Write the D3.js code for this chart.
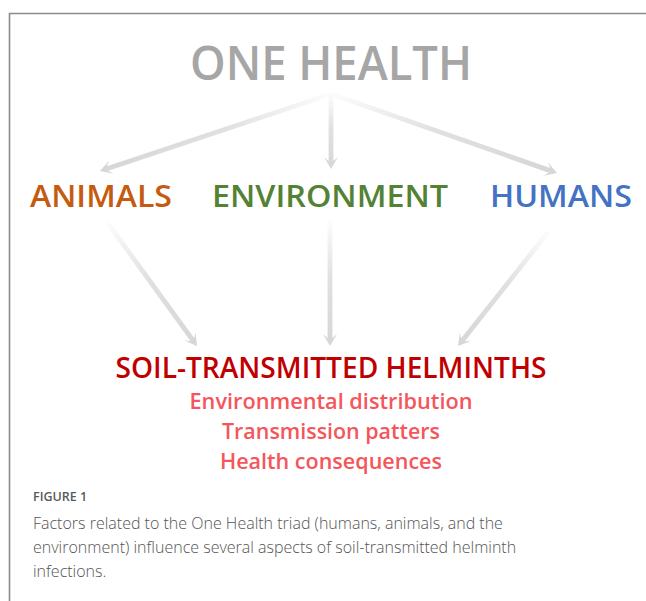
<!DOCTYPE html>
<html>
<head>
<meta charset="utf-8">
<script src="https://cdn.jsdelivr.net/npm/d3@7"></script>
<style>
  body { margin: 0; background: #fff; }
  svg { display: block; }
</style>
</head>
<body>
<div id="chart"></div>
<script>
// diagram content
var topLabel = "ONE HEALTH";
var factors = ["ANIMALS", "ENVIRONMENT", "HUMANS"];
var factorColors = ["#c55a11", "#548235", "#4472c4"];
var targetLabel = "SOIL-TRANSMITTED HELMINTHS";
var aspects = ["Environmental distribution", "Transmission patters", "Health consequences"];
var figLabel = "FIGURE 1";
var caption = [
  "Factors related to the One Health triad (humans, animals, and the",
  "environment) influence several aspects of soil-transmitted helminth",
  "infections."
];

var width = 646, height = 601;
var cx = 331;

var svg = d3.select("#chart").append("svg")
  .attr("width", width)
  .attr("height", height);

// frame (top + left edge only, the figure continues off the crop)
svg.append("path")
  .attr("d", "M9.5," + height + " V13.5 H" + width)
  .attr("fill", "none")
  .attr("stroke", "#8c8c8c")
  .attr("stroke-width", 1.6);

var defs = svg.append("defs");

var xFactor = d3.scaleOrdinal().domain(factors).range([101, 330, 561]);
var factorWidth = { "ANIMALS": 142, "ENVIRONMENT": 236, "HUMANS": 142 };

function fitText(sel, w) {
  sel.attr("textLength", w).attr("lengthAdjust", "spacingAndGlyphs");
}

// arrows: [from, to]
var upperArrows = [
  [[331, 94], [100, 171]],
  [[331, 94], [331, 169]],
  [[331, 94], [557, 173]]
];
var lowerArrows = [
  [[107, 222], [197, 346]],
  [[330, 219], [330, 346]],
  [[549, 231], [458, 346]]
];

function drawArrow(a, i, tag) {
  var s = a[0], t = a[1];
  var id = "g-" + tag + i;
  var grad = defs.append("linearGradient")
    .attr("id", id)
    .attr("gradientUnits", "userSpaceOnUse")
    .attr("x1", s[0]).attr("y1", s[1])
    .attr("x2", t[0]).attr("y2", t[1]);
  grad.append("stop").attr("offset", "0%").attr("stop-color", "#d9d9d9").attr("stop-opacity", 0.05);
  grad.append("stop").attr("offset", "45%").attr("stop-color", "#d9d9d9").attr("stop-opacity", 0.8);
  grad.append("stop").attr("offset", "100%").attr("stop-color", "#d6d6d6").attr("stop-opacity", 1);

  var dx = t[0] - s[0], dy = t[1] - s[1];
  var len = Math.sqrt(dx * dx + dy * dy);
  var ux = dx / len, uy = dy / len;
  var px = -uy, py = ux;
  var headL = 12, headW = 7, notch = 4, sw = 2.4;

  var bx = t[0] - ux * headL, by = t[1] - uy * headL;
  var nx = t[0] - ux * (headL - notch), ny = t[1] - uy * (headL - notch);
  var pts = [
    [s[0] + px * sw, s[1] + py * sw],
    [nx + px * sw, ny + py * sw],
    [bx + px * headW, by + py * headW],
    [t[0], t[1]],
    [bx - px * headW, by - py * headW],
    [nx - px * sw, ny - py * sw],
    [s[0] - px * sw, s[1] - py * sw]
  ];
  svg.append("path")
    .attr("d", d3.line()(pts) + "Z")
    .attr("fill", "url(#" + id + ")");
}

upperArrows.forEach(function(a, i) { drawArrow(a, i, "u"); });
lowerArrows.forEach(function(a, i) { drawArrow(a, i, "l"); });

var diagFont = "'Open Sans', 'Noto Sans', sans-serif";

svg.append("text")
  .attr("x", cx).attr("y", 80)
  .attr("text-anchor", "middle")
  .attr("font-family", diagFont)
  .attr("font-weight", 600)
  .attr("font-size", 47)
  .attr("fill", "#a6a6a6")
  .text(topLabel)
  .call(fitText, 282);

svg.selectAll("text.factor")
  .data(factors)
  .enter().append("text")
  .attr("class", "factor")
  .attr("x", function(d) { return xFactor(d); })
  .attr("y", 207)
  .attr("text-anchor", "middle")
  .attr("font-family", diagFont)
  .attr("font-weight", 600)
  .attr("font-size", 30)
  .attr("fill", function(d, i) { return factorColors[i]; })
  .text(function(d) { return d; })
  .each(function(d) { d3.select(this).call(fitText, factorWidth[d]); });

svg.append("text")
  .attr("x", cx).attr("y", 378)
  .attr("text-anchor", "middle")
  .attr("font-family", diagFont)
  .attr("font-weight", 600)
  .attr("font-size", 29)
  .attr("fill", "#c00000")
  .text(targetLabel)
  .call(fitText, 431);

var aspectWidth = [283, 218, 222];
svg.selectAll("text.aspect")
  .data(aspects)
  .enter().append("text")
  .attr("class", "aspect")
  .attr("x", cx)
  .attr("y", function(d, i) { return 409 + i * 30; })
  .attr("text-anchor", "middle")
  .attr("font-family", diagFont)
  .attr("font-weight", 600)
  .attr("font-size", 22)
  .attr("fill", "#f4565b")
  .text(function(d) { return d; })
  .each(function(d, i) { d3.select(this).call(fitText, aspectWidth[i]); });

var capFont = "'Open Sans', sans-serif";

svg.append("text")
  .attr("x", 33).attr("y", 501)
  .attr("font-family", capFont)
  .attr("font-weight", 600)
  .attr("font-size", 12.5)
  .attr("fill", "#595959")
  .text(figLabel);

svg.selectAll("text.caption")
  .data(caption)
  .enter().append("text")
  .attr("class", "caption")
  .attr("x", 33)
  .attr("y", function(d, i) { return 529 + i * 24; })
  .attr("font-family", capFont)
  .attr("font-weight", 300)
  .attr("font-size", 16)
  .attr("fill", "#555")
  .text(function(d) { return d; });
</script>
</body>
</html>
